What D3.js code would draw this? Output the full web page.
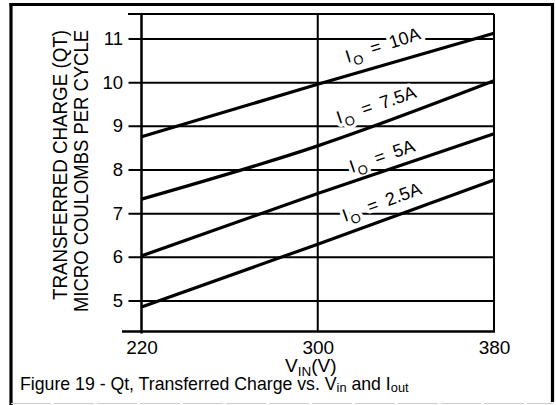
<!DOCTYPE html>
<html>
<head>
<meta charset="utf-8">
<script src="https://cdn.jsdelivr.net/npm/d3@7"></script>
<style>
  body { margin: 0; background: #fff; }
  svg { display: block; font-family: "Liberation Sans", Arial, Helvetica, sans-serif; }
</style>
</head>
<body>
<div id="chart"></div>
<script>
// input voltage (V) at which the curves were read
const vin = [220, 300, 380];

// transferred charge, micro coulombs per cycle, one array per output current
const q10 = [8.75, 9.95, 11.12];
const q75 = [7.32, 8.54, 10.03];
const q5 = [6.02, 7.45, 8.82];
const q25 = [4.85, 6.29, 7.76];

const seriesNames = ["10A", "7.5A", "5A", "2.5A"];
const seriesValues = [q10, q75, q5, q25];

// where each curve label starts (in data units) and its tilt
const labelVin = [313.6, 309.7, 315.6, 312.4];
const labelQ = [10.44, 9.04, 7.92, 6.80];
const labelAngle = [-18, -19, -19, -20];

const xTicks = [220, 300, 380];
const yTicks = [5, 6, 7, 8, 9, 10, 11];

const width = 556;
const height = 405;

const x = d3.scaleLinear().domain([220, 380]).range([141.5, 494]);
const y = d3.scaleLinear().domain([4.29, 11.56]).range([331.5, 14]);

const svg = d3.select("#chart")
    .append("svg")
    .attr("width", width)
    .attr("height", height);

// outer frame of the figure
const frame = svg.append("g").attr("stroke", "#000").attr("stroke-width", 3.2);
frame.append("line").attr("x1", 11).attr("x2", 11).attr("y1", 3).attr("y2", 405);
frame.append("line").attr("x1", 9.5).attr("x2", 554).attr("y1", 4.5).attr("y2", 4.5);
frame.append("line").attr("x1", 552.5).attr("x2", 552.5).attr("y1", 3).attr("y2", 402);
svg.append("line")
    .attr("x1", 11).attr("x2", 553).attr("y1", 403.5).attr("y2", 403.5)
    .attr("stroke", "#ccc").attr("stroke-width", 1.2).attr("stroke-dasharray", "40 3");

const [x0, x1] = x.range();
const [yb, yt] = y.range();

// horizontal grid, the ticks stick out 13px on the left
svg.append("g")
    .attr("transform", `translate(${x0},0)`)
    .call(d3.axisLeft(y).tickValues(yTicks).tickSize(0).tickPadding(18.5))
    .call(g => g.select(".domain").remove())
    .call(g => g.selectAll(".tick line")
        .attr("x1", -13).attr("x2", x1 - x0)
        .attr("stroke-width", 2))
    .call(g => g.selectAll(".tick text")
        .attr("font-size", 18.5).attr("fill", "#000")
        .attr("font-family", "Liberation Sans, Arial, sans-serif"));

// x tick labels
svg.append("g")
    .attr("transform", `translate(0,${yb})`)
    .call(d3.axisBottom(x).tickValues(xTicks).tickSize(0).tickPadding(9.5))
    .call(g => g.select(".domain").remove())
    .call(g => g.selectAll(".tick text")
        .attr("font-size", 19).attr("fill", "#000")
        .attr("font-family", "Liberation Sans, Arial, sans-serif"));

// vertical grid line at 300 V
svg.append("line")
    .attr("x1", x(300)).attr("x2", x(300)).attr("y1", yt).attr("y2", yb)
    .attr("stroke", "#000").attr("stroke-width", 2);

// plot border
const border = svg.append("g").attr("stroke", "#000").attr("fill", "none");
border.append("line").attr("x1", 128).attr("x2", x1).attr("y1", yt).attr("y2", yt).attr("stroke-width", 2);
border.append("line").attr("x1", x1).attr("x2", x1).attr("y1", yt).attr("y2", yb).attr("stroke-width", 2);
border.append("line").attr("x1", 122).attr("x2", x1 + 1).attr("y1", yb).attr("y2", yb).attr("stroke-width", 2.5);
border.append("line").attr("x1", x0).attr("x2", x0).attr("y1", yt).attr("y2", yb + 2).attr("stroke-width", 2.5);

// curve labels, with a white halo that breaks the grid lines
seriesNames.forEach((name, i) => {
    const t = svg.append("text")
        .attr("transform", `translate(${x(labelVin[i])},${y(labelQ[i])}) rotate(${labelAngle[i]})`)
        .attr("font-size", 18)
        .attr("fill", "#000")
        .attr("stroke", "#fff")
        .attr("stroke-width", 7)
        .attr("stroke-linejoin", "round")
        .attr("paint-order", "stroke");
    t.append("tspan").text("I");
    t.append("tspan").attr("font-size", 13).attr("dy", 5).attr("dx", 1).text("O");
    t.append("tspan").attr("dy", -5).attr("dx", 10).text("=");
    t.append("tspan").attr("dx", 9).text(name);
});

// the four curves
const line = d3.line()
    .x((d, i) => x(vin[i]))
    .y(d => y(d))
    .curve(d3.curveMonotoneX);

svg.selectAll("path.curve")
    .data(seriesValues)
    .enter().append("path")
    .attr("class", "curve")
    .attr("d", d => line(d))
    .attr("fill", "none")
    .attr("stroke", "#000")
    .attr("stroke-width", 3.2);

// y axis title, two lines
svg.append("text")
    .attr("transform", "translate(67,30) rotate(-90)")
    .attr("text-anchor", "end")
    .attr("font-size", 19.5)
    .attr("textLength", 270)
    .attr("lengthAdjust", "spacingAndGlyphs")
    .text("TRANSFERRED CHARGE (QT)");

svg.append("text")
    .attr("transform", "translate(87.5,30) rotate(-90)")
    .attr("text-anchor", "end")
    .attr("font-size", 19.5)
    .attr("textLength", 282)
    .attr("lengthAdjust", "spacingAndGlyphs")
    .text("MICRO COULOMBS PER CYCLE");

// x axis title
const xt = svg.append("text")
    .attr("x", 285).attr("y", 371.5)
    .attr("font-size", 19);
xt.append("tspan").text("V");
xt.append("tspan").attr("font-size", 13.5).attr("dy", 4).text("IN");
xt.append("tspan").attr("dy", -4).text("(V)");

// caption
const cap = svg.append("text")
    .attr("x", 20).attr("y", 389.5)
    .attr("font-size", 17.7);
cap.append("tspan").text("Figure 19 - Qt, Transferred Charge vs. V");
cap.append("tspan").attr("font-size", 12.8).attr("dy", 2).text("in");
cap.append("tspan").attr("dy", -2).text(" and I");
cap.append("tspan").attr("font-size", 12.8).attr("dy", 2).text("out");
</script>
</body>
</html>
